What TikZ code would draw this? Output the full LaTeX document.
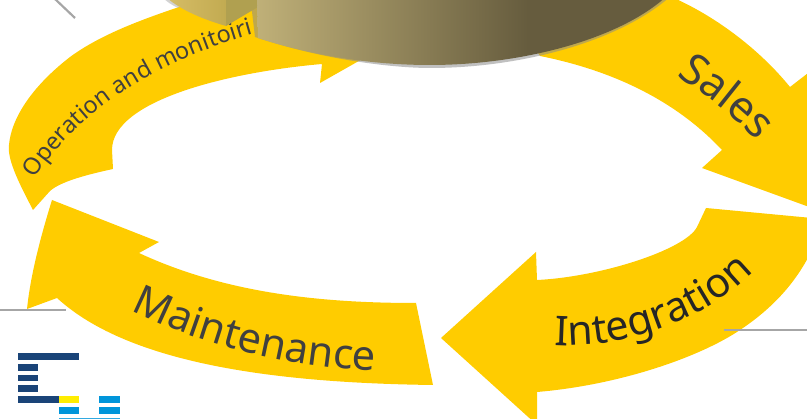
\documentclass[tikz,border=0pt]{standalone}
\usepackage{fontspec}
\setmainfont{Noto Sans}
\usetikzlibrary{decorations.text}
\definecolor{arrowyellow}{HTML}{FFCC00}
\definecolor{labeldark}{HTML}{404040}
\definecolor{labelblack}{HTML}{262626}
\definecolor{rulegrey}{HTML}{A6A6A6}
\definecolor{logonavy}{HTML}{1A4478}
\definecolor{logoblue}{HTML}{0095DA}
\definecolor{logoyellow}{HTML}{FFED00}
\definecolor{blockside}{HTML}{B0A050}
\pgfdeclarehorizontalshading{discside}{100bp}{rgb(0bp)=(0.75,0.69,0.47); rgb(25bp)=(0.75,0.69,0.47); rgb(58bp)=(0.4,0.361,0.243); rgb(100bp)=(0.4,0.361,0.243)}
\pgfdeclarehorizontalshading{blockface}{100bp}{rgb(0bp)=(0.84,0.74,0.40); rgb(25bp)=(0.84,0.74,0.40); rgb(75bp)=(0.76,0.67,0.32); rgb(100bp)=(0.76,0.67,0.32)}
\tikzset{
  flow/.style={fill=arrowyellow,draw=none},
  rulegrey line/.style={draw=rulegrey,line width=2.2pt},
  curved label/.style n args={4}{decorate,decoration={text along path,
    text align={align=#1},
    text={|\fontsize{#2}{#2}\selectfont\color{#3}|#4}}},
}
\begin{document}
\begin{tikzpicture}[x=1pt,y=-1pt]
\useasboundingbox (0,0) rectangle (807,419);
\clip (0,0) rectangle (807,419);
% arrows
\fill[flow] (33,210) .. controls (20,185) and (7,160) .. (9,145)
  .. controls (11,120) and (30,88) .. (70,57) .. controls (100,35) and (140,20) .. (185,5)
  -- (260,-5) -- (380,49) -- (320,83) -- (322,64)
  .. controls (230,72) and (112,100) .. (112,150) -- (113,169)
  .. controls (85,175) and (60,182) .. (50,191) -- cycle;
\fill[flow] (500,-5) -- (667,-5) .. controls (715,15) and (760,50) .. (790,87) -- (812,70)
  -- (812,208) -- (702,168) -- (722,150) .. controls (680,105) and (620,72) .. (540,56) -- cycle;
\fill[flow] (706,208) -- (812,218) -- (812,250) .. controls (795,285) and (770,310) .. (740,330)
  .. controls (700,357) and (620,385) .. (537,392)
  -- (537,425) -- (441,338) -- (536,252) -- (537,280)
  .. controls (600,277) and (685,250) .. (697,227) -- cycle;
\fill[flow] (416,303) -- (433,385) .. controls (280,383) and (130,365) .. (57,298) -- (27,309)
  .. controls (30,280) and (38,245) .. (52,200) -- (159,242) -- (139,253)
  .. controls (225,293) and (320,303) .. (416,303) -- cycle;
% labels
\path[curved label={left}{23.5}{labeldark}{Operation and monitoiri}] (35,179) .. controls (72,118) and (150,62) .. (258,33);
\path[curved label={left}{43}{labeldark}{Sales}] (677,75) .. controls (700,92) and (730,112) .. (756,140);
\path[curved label={left}{41}{labelblack}{Integration}] (555,345) .. controls (620,350) and (710,320) .. (757,268);
\path[curved label={left}{41.5}{labeldark}{Maintenance}] (131,310) .. controls (200,345) and (290,368) .. (375,371);
% disc and block
\fill[black!35,opacity=.5] (160,-5) .. controls (168,3) and (172,5) .. (178,8) -- (190,-5) -- cycle;
\fill[black!45,opacity=.55] (255,37) .. controls (330,62) and (400,68) .. (430,68)
  .. controls (520,68) and (620,42) .. (672,-5) -- (250,-5) -- cycle;
\shade[shading=blockface] (166,-3) .. controls (180,10) and (205,20) .. (226,26) -- (226,-5) -- cycle;
\fill[blockside] (226,-5) -- (226,26) -- (258,7) -- (258,-5) -- cycle;
\shade[shading=discside] (257,-5) -- (258,38) .. controls (310,55) and (370,65) .. (430,65)
  .. controls (520,65) and (620,40) .. (668,-5) -- cycle;
% grey rules
\draw[rulegrey line] (55,-1) -- (75,18);
\draw[rulegrey line] (0,310) -- (66,310);
\draw[rulegrey line] (724,330) -- (807,330);
% logo
\fill[logonavy] (17.5,353) rectangle (79,360);
\fill[logonavy] (17.5,364) rectangle (38,371);
\fill[logonavy] (17.5,375) rectangle (38,381);
\fill[logonavy] (17.5,385.5) rectangle (38,392);
\fill[logonavy] (17.5,396.5) rectangle (58.5,403.5);
\fill[logoyellow] (58.5,396.5) rectangle (79,403.5);
\fill[logoblue] (99,396.5) rectangle (120,403.5);
\fill[logoblue] (58.5,407) rectangle (79,414);
\fill[logoblue] (99,407) rectangle (120,414);
\fill[logoblue!80] (58.5,418) rectangle (120,419);
\end{tikzpicture}
\end{document}
